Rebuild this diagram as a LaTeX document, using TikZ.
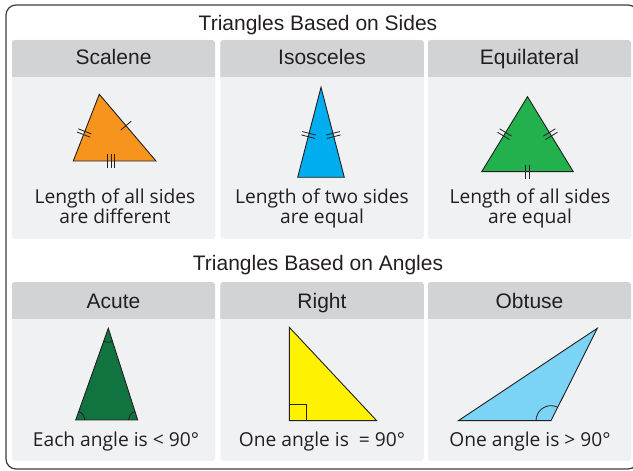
\documentclass[tikz,border=0pt]{standalone}
\usepackage{fontspec}
\setmainfont{Open Sans}
\newfontfamily\headfont{Liberation Sans}
\usetikzlibrary{angles,calc}
\definecolor{TriInk}{HTML}{231F20}
\definecolor{TriFrame}{HTML}{3C3C3C}
\definecolor{TriHead}{HTML}{D1D3D4}
\definecolor{TriBody}{HTML}{F0F1F2}
\definecolor{TriOrange}{HTML}{F7941D}
\definecolor{TriCyan}{HTML}{00AEEF}
\definecolor{TriGreen}{HTML}{22B14C}
\definecolor{TriForest}{HTML}{11733F}
\definecolor{TriYellow}{HTML}{FFF200}
\definecolor{TriSky}{HTML}{7BD3F5}

% equal-side marks: from, to, position on the side, offsets along the side
\newcommand{\sidemarks}[4]{%
  \foreach \o in {#4}
    \draw[tickln] ($(#1)!#3!(#2)!\o!(#2)!7pt!90:(#2)$) -- ($(#1)!#3!(#2)!\o!(#2)!7pt!-90:(#2)$);}

\begin{document}
\begin{tikzpicture}[x=1pt,y=1pt,
    panel/.style={fill=TriBody, rounded corners=3pt, minimum width=203.5pt, inner sep=0pt,
      path picture={\fill[TriHead, sharp corners] (path picture bounding box.north west) rectangle ([yshift=-37pt]path picture bounding box.north east);}},
    title/.style={font=\headfont\fontsize{21}{24}\selectfont, text=TriInk, anchor=base},
    head/.style={font=\headfont\fontsize{21}{24}\selectfont, text=TriInk, anchor=base},
    caption/.style={font=\fontsize{19.2}{20.5}\selectfont, text=TriInk, align=center, anchor=base},
    tri/.style={draw=TriInk, line width=0.9pt},
    tickln/.style={draw=TriInk, line width=0.8pt},
    arcmark/.style={draw=TriInk, line width=0.8pt, angle radius=#1}]
    \useasboundingbox (0,0) rectangle (633,471);
    \draw[TriFrame, line width=1.2pt, rounded corners=10pt] (6,2) rectangle (638,466);

    % sides
    \node[title] (sidesT) at (318,440) {Triangles Based on Sides};
    \node[panel, minimum height=199pt] (scalene) at (113.5,331.5) {};
    \node[panel, minimum height=199pt] (isosceles) at (322,331.5) {};
    \node[panel, minimum height=199pt] (equilateral) at (529.5,331.5) {};
    \node[head] (scaleneH) at (113.5,406) {Scalene};
    \node[head] (isoscelesH) at (322,406) {Isosceles};
    \node[head] (equilateralH) at (529.5,406) {Equilateral};
    \node[caption] (scaleneC) at (115,247) {Length of all sides\\are different};
    \node[caption] (isoscelesC) at (322,247) {Length of two sides\\are equal};
    \node[caption] (equilateralC) at (530,247) {Length of all sides\\are equal};

    \coordinate (scA) at (73.3,310);
    \coordinate (scB) at (156,310);
    \coordinate (scC) at (99.3,376.7);
    \filldraw[tri, fill=TriOrange] (scA) -- (scB) -- (scC) -- cycle;
    \sidemarks{scA}{scC}{0.42}{-1.75pt,1.75pt}
    \sidemarks{scC}{scB}{0.47}{0pt}
    \sidemarks{scA}{scB}{0.46}{-3.5pt,0pt,3.5pt}

    \coordinate (isA) at (297.7,293.7);
    \coordinate (isB) at (344.3,293.7);
    \coordinate (isC) at (321,383.7);
    \filldraw[tri, fill=TriCyan] (isA) -- (isB) -- (isC) -- cycle;
    \sidemarks{isA}{isC}{0.47}{-1.75pt,1.75pt}
    \sidemarks{isB}{isC}{0.47}{-1.75pt,1.75pt}

    \coordinate (eqA) at (481.7,299.3);
    \coordinate (eqB) at (573.3,299.3);
    \coordinate (eqC) at (527.5,374.3);
    \filldraw[tri, fill=TriGreen] (eqA) -- (eqB) -- (eqC) -- cycle;
    \sidemarks{eqA}{eqC}{0.5}{-2pt,2pt}
    \sidemarks{eqB}{eqC}{0.5}{-2pt,2pt}
    \sidemarks{eqA}{eqB}{0.5}{-2pt,2pt}

    % angles
    \node[title] (anglesT) at (318,200.3) {Triangles Based on Angles};
    \node[panel, minimum height=179pt] (acute) at (113.5,99.5) {};
    \node[panel, minimum height=179pt] (right) at (322,99.5) {};
    \node[panel, minimum height=179pt] (obtuse) at (529.5,99.5) {};
    \node[head] (acuteH) at (113.5,162.7) {Acute};
    \node[head] (rightH) at (322,162.7) {Right};
    \node[head] (obtuseH) at (529.5,162.7) {Obtuse};
    \node[caption] (acuteC) at (116,24.3) {Each angle is < 90°};
    \node[caption] (rightC) at (322,24.3) {One angle is~ = 90°};
    \node[caption] (obtuseC) at (530,24.3) {One angle is > 90°};

    \coordinate (acL) at (75.7,51);
    \coordinate (acR) at (137.7,51);
    \coordinate (acT) at (108.3,142.7);
    \filldraw[tri, fill=TriForest] (acL) -- (acR) -- (acT) -- cycle;
    \pic[arcmark=9pt] {angle=acR--acL--acT};
    \pic[arcmark=9pt] {angle=acT--acR--acL};
    \pic[arcmark=14pt] {angle=acL--acT--acR};

    \coordinate (rtT) at (289.3,143.7);
    \coordinate (rtL) at (289.3,50.3);
    \coordinate (rtR) at (376.7,50.3);
    \filldraw[tri, fill=TriYellow] (rtL) -- (rtR) -- (rtT) -- cycle;
    \draw[tickln] (rtL) rectangle ($(rtL)+(16.7,16.7)$);

    \coordinate (obA) at (458.3,50.3);
    \coordinate (obB) at (551,50.3);
    \coordinate (obC) at (597.3,142.7);
    \filldraw[tri, fill=TriSky] (obA) -- (obB) -- (obC) -- cycle;
    \pic[arcmark=15pt] {angle=obC--obB--obA};
  \end{tikzpicture}
\end{document}
